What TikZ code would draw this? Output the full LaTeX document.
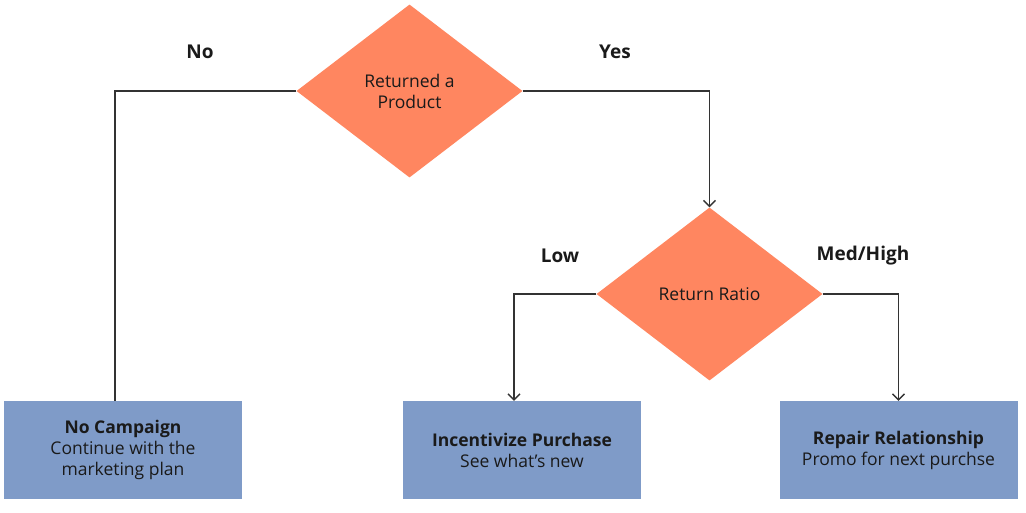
\documentclass[tikz,border=0pt]{standalone}
\usepackage{fontspec}
\setmainfont{Open Sans}
\usetikzlibrary{shapes.geometric,arrows.meta,calc}
\definecolor{dorange}{HTML}{FF8660}
\definecolor{bblue}{HTML}{7F9BC8}
\definecolor{lline}{HTML}{333333}
\definecolor{ttext}{HTML}{1A1A1A}
\tikzset{
  decision/.style={diamond, fill=dorange, draw=none, inner sep=0pt, minimum width=226pt, minimum height=173pt, align=center, text=ttext, font=\fontsize{17.5}{21}\selectfont},
  outcome/.style={rectangle, fill=bblue, draw=none, minimum width=238pt, minimum height=98pt, align=center, text=ttext, font=\fontsize{17.5}{21}\selectfont},
  conn/.style={draw=lline, line width=1.4pt},
  arr/.style={conn, -{Straight Barb[length=6pt,width=12pt,line width=1.3pt]}},
  lbl/.style={font=\bfseries\fontsize{19}{22}\selectfont, text=ttext}
}
\begin{document}
\begin{tikzpicture}[x=1pt,y=-1pt]
\path[use as bounding box, fill=white] (0,0) rectangle (1026,512);
\node[decision] (d1) at (409.5,91) {Returned a\\Product};
\node[decision] (d2) at (709.5,294) {Return Ratio};
\node[outcome] (b1) at (123,450) {\textbf{No Campaign}\\Continue with the\\marketing plan};
\node[outcome] (b2) at (522,450) {\textbf{Incentivize Purchase}\\See what's new};
\node[outcome] (b3) at (898.5,450) {\textbf{Repair Relationship}\\Promo for next purchse};
\draw[conn] (d1.west) -| ($(b1.north)+(-8,0)$);
\draw[arr] (d1.east) -| (d2.north);
\draw[arr] (d2.west) -| ($(b2.north)+(-8,0)$);
\draw[arr] (d2.east) -| (b3.north);
\node[lbl] (lno) at (200,52) {No};
\node[lbl] (lyes) at (615,52) {Yes};
\node[lbl] (llow) at (560,256) {Low};
\node[lbl] (lmed) at (863,256) {Med/High};
\end{tikzpicture}
\end{document}
